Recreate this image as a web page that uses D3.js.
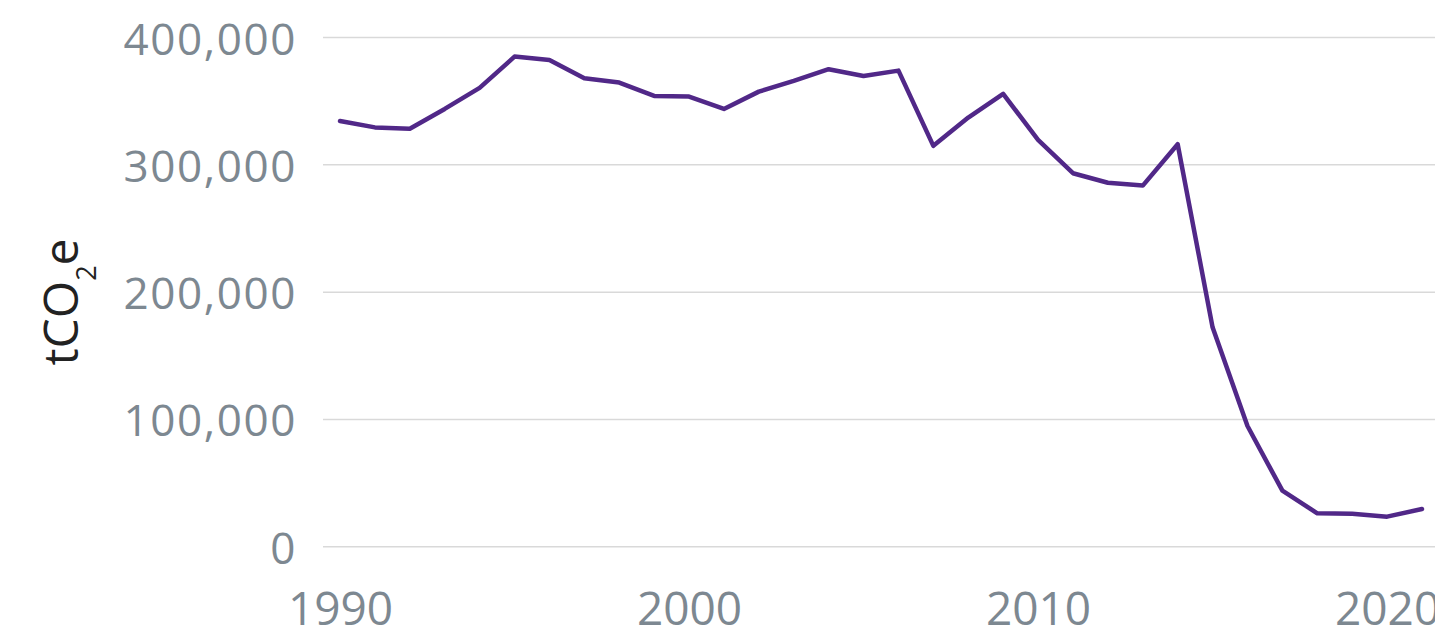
<!DOCTYPE html>
<html>
<head>
<meta charset="utf-8">
<script src="https://cdnjs.cloudflare.com/ajax/libs/d3/7.8.5/d3.min.js"></script>
<style>
  body { margin: 0; background: #fff; }
  text { font-family: "Open Sans", sans-serif; }
</style>
</head>
<body>
<div id="holder"></div>
<script>
const w = 1435;
const h = 632;

// DATA
const years = [1990, 1991, 1992, 1993, 1994, 1995, 1996, 1997, 1998, 1999,
    2000, 2001, 2002, 2003, 2004, 2005, 2006, 2007, 2008, 2009,
    2010, 2011, 2012, 2013, 2014, 2015, 2016, 2017, 2018, 2019,
    2020, 2021];
const emissions = [334000, 329000, 328000, 343500, 360000, 384600, 382000, 367600, 364200, 353700,
    353200, 343500, 357100, 365500, 374700, 369400, 373600, 314500, 336700, 355300,
    319200, 293000, 285500, 283300, 315800, 172000, 94500, 43700, 25900, 25500,
    23300, 29300];
const yTicks = [0, 100000, 200000, 300000, 400000];
const xTicks = [1990, 2000, 2010, 2020];

// CREATE SVG
const svg = d3.select("#holder")
    .append("svg")
    .attr("width", w)
    .attr("height", h)

const gridLeft = 323;
const x = d3.scaleLinear().domain([1990, 2021]).range([340, 1422]);
const y = d3.scaleLinear().domain([0, 400000]).range([546.3, 37]);

// Y AXIS + GRIDLINES
const yAxis = svg.append("g")
    .attr("transform", `translate(${gridLeft},0)`)
    .call(d3.axisLeft(y).tickValues(yTicks).tickSize(-(w - gridLeft)).tickFormat(d3.format(",")))

yAxis.select(".domain").remove();
yAxis.selectAll(".tick line")
    .attr("stroke", "#d9d9d9")
    .attr("stroke-width", 1.5)
yAxis.selectAll(".tick text")
    .attr("x", -26)
    .attr("y", 17)
    .attr("dy", 0)
    .attr("fill", "#7d8891")
    .style("font-size", "44px")
    .style("letter-spacing", "1.6px")

// X AXIS
const xAxis = svg.append("g")
    .attr("transform", "translate(0,546)")
    .call(d3.axisBottom(x).tickValues(xTicks).tickSize(0).tickFormat(d3.format("d")))

xAxis.select(".domain").remove();
xAxis.selectAll(".tick text")
    .attr("y", 79)
    .attr("dy", 0)
    .attr("fill", "#7d8891")
    .style("font-size", "46px")

// Y LABEL
const yLabel = svg.append("text")
    .attr("transform", "translate(78,302) rotate(-90)")
    .attr("text-anchor", "middle")
    .attr("fill", "#222")
    .style("font-size", "48px")
yLabel.append("tspan").text("tCO")
yLabel.append("tspan").attr("dy", 18).style("font-size", "27px").text("2")
yLabel.append("tspan").attr("dy", -18).text("e")

// LINE
const line = d3.line()
    .x((d, i) => x(years[i]))
    .y(d => y(d))

svg.append("path")
    .datum(emissions)
    .attr("fill", "none")
    .attr("stroke", "#512888")
    .attr("stroke-width", 4.5)
    .attr("stroke-linejoin", "round")
    .attr("stroke-linecap", "round")
    .attr("d", line)
</script>
</body>
</html>
